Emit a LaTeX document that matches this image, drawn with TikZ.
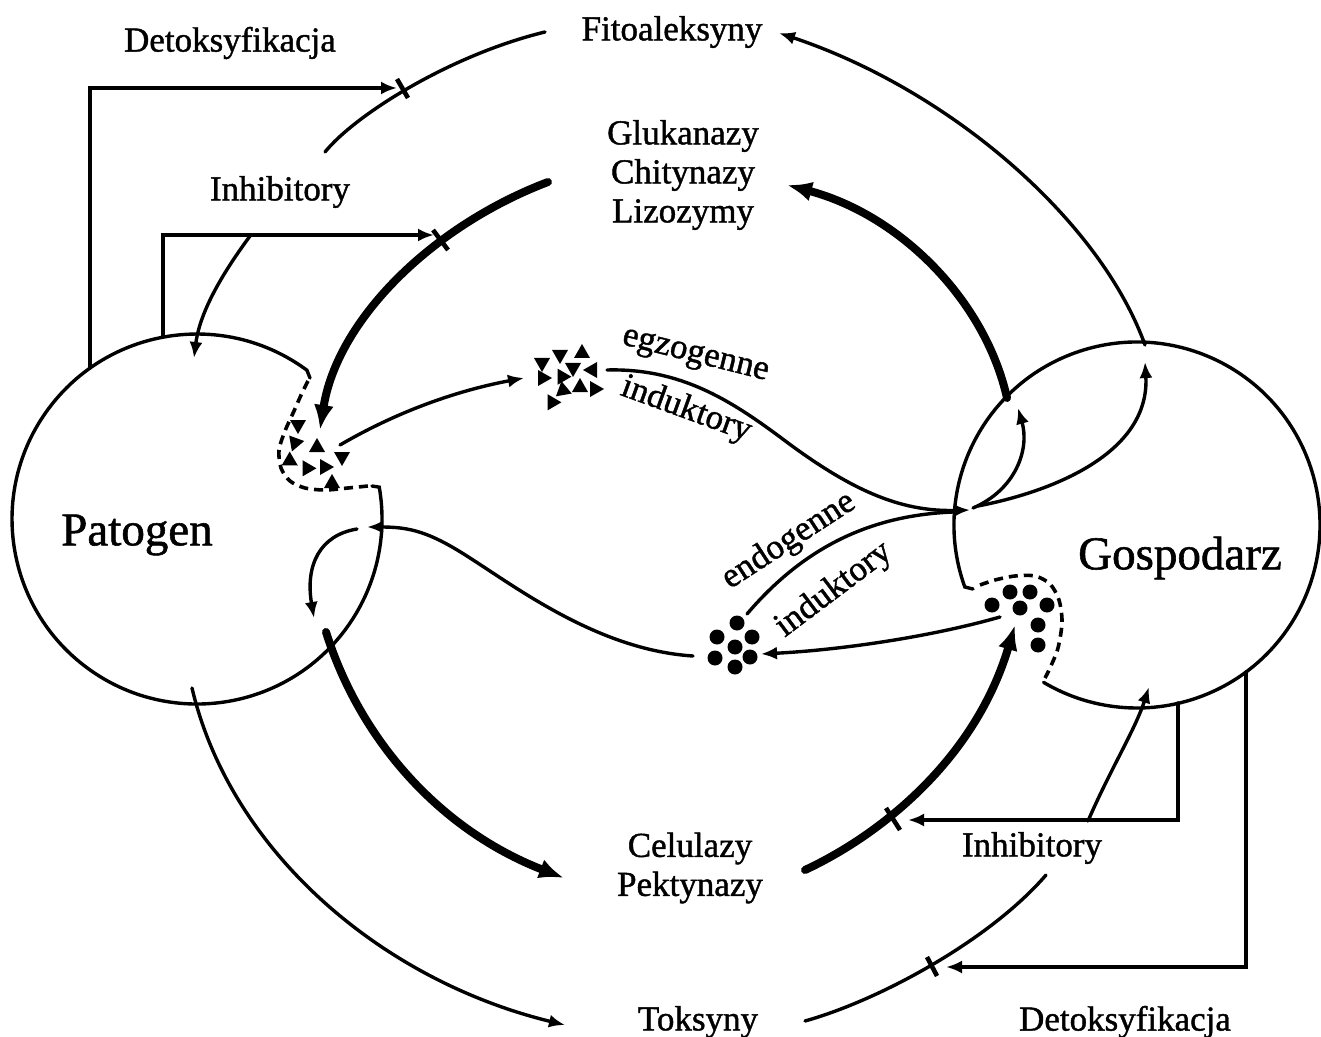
\documentclass[tikz,border=0pt]{standalone}
\usepackage{fontspec}
\setmainfont{Liberation Serif}
\newfontfamily\labfont[FakeBold=1.2]{Liberation Serif}
\usetikzlibrary{arrows.meta}
\newcommand\tria[3]{\fill[shift={(#1,#2)},rotate=#3] (0,-9)--(8,5)--(-8,5)--cycle;}
\begin{document}
\begin{tikzpicture}[x=0.5pt,y=-0.5pt,
  ln/.style={line width=1.7pt, line cap=round},
  thk/.style={line width=4pt, line cap=round},
  arr/.style={ln, -{Latex[length=8pt,width=6.5pt]}},
  tarr/.style={thk, -{Latex[length=12.5pt,width=10pt]}},
  dsh/.style={line width=1.8pt, dash pattern=on 4.5pt off 3pt},
  tick/.style={line width=2.3pt},
  lbl/.style={font=\labfont\fontsize{17.5}{19.5}\selectfont, inner sep=0pt, align=center},
  big/.style={font=\labfont\fontsize{23.5}{26}\selectfont, inner sep=0pt}]
\useasboundingbox (0,0) rectangle (1321,1037);

% ---------- circles ----------
\coordinate (Pc) at (197,519);
\coordinate (Gc) at (1137,525);
\draw[ln] (310,378) -- (306.9,370.2) arc[start angle=-53.56, end angle=-369.92, radius=185] -- (372,486);
\draw[dsh] plot[smooth] coordinates {(308,381) (302,393) (294,411) (285,431) (279,450) (281,468) (290,481) (305,488) (325,490) (348,488) (368,486)};
\draw[ln] (973,589) -- (964.8,587) arc[start angle=160.2, end angle=480.7, radius=183];
\draw[dsh] plot[smooth] coordinates {(980,585) (995,580) (1015,576) (1035,576) (1050,584) (1059,600) (1062,622) (1058,648) (1050,668) (1045,678)};

% ---------- labels ----------
\node[big] (P) at (137,535) {Patogen};
\node[big] (G) at (1180,558) {Gospodarz};
\node[lbl] (detox1) at (230,43) {Detoksyfikacja};
\node[lbl] (fito) at (672,32) {Fitoaleksyny};
\node[lbl] (glu) at (683,175) {Glukanazy\\Chitynazy\\Lizozymy};
\node[lbl] (inh1) at (280,192) {Inhibitory};
\node[lbl, rotate=-14] (egz) at (695,357) {egzogenne};
\node[lbl, rotate=-20] (ind1) at (686,410) {induktory};
\node[lbl, rotate=33] (endo) at (789,541) {endogenne};
\node[lbl, rotate=37] (ind2) at (834,590) {induktory};
\node[lbl] (cel) at (690,868) {Celulazy\\Pektynazy};
\node[lbl] (inh2) at (1032,848) {Inhibitory};
\node[lbl] (tok) at (698,1022) {Toksyny};
\node[lbl] (detox2) at (1125,1022) {Detoksyfikacja};

% ---------- clusters ----------
% triangles in pathogen
\tria{298}{425}{180}\tria{295}{443}{160}\tria{317}{447}{0}\tria{342}{457}{180}
\tria{290}{461}{-120}\tria{307}{468}{30}\tria{325}{467}{-90}\tria{332}{483}{0}
% exogenous inducers
\tria{542}{363}{180}\tria{560}{355}{180}\tria{582}{353}{0}\tria{543}{378}{-90}
\tria{562}{377}{150}\tria{573}{368}{180}\tria{592}{370}{90}\tria{563}{390}{10}
\tria{580}{387}{0}\tria{595}{389}{-90}\tria{552}{402}{30}
% endogenous inducers
\foreach \p in {(737,623),(717,637),(752,637),(735,647),(715,658),(750,657),(735,667)}
  \fill \p circle[radius=7.5];
% host dots
\foreach \p in {(1010,592),(1030,592),(992,605),(1020,608),(1047,605),(1038,625),(1038,645)}
  \fill \p circle[radius=7.5];

% ---------- coordinates ----------
\coordinate (d1a) at (90,368);
\coordinate (d1b) at (397,88);
\coordinate (i1a) at (163,337);
\coordinate (i1b) at (434,235);
\coordinate (i2a) at (1178,703);
\coordinate (i2b) at (908,820);
\coordinate (d2a) at (1246,672);
\coordinate (d2b) at (946,967);

% ---------- top-left ----------
\draw[arr] (d1a) -- (90,88) -- (d1b);
\draw[ln] (325,152) .. controls (355,115) and (450,55) .. (545,32);
\draw[tick] (397,79) -- (408,98);
\draw[arr] (1145,345) .. controls (1100,220) and (950,90) .. (779,33);

\draw[tarr] (548,182) .. controls (432,226) and (337,320) .. (320,430);
\draw[tick] (433,230) -- (448,250);
\draw[arr] (i1a) -- (163,235) -- (i1b);
\draw[arr] (250,236) .. controls (225,270) and (200,310) .. (194,358);

\draw[tarr] (1007,398) .. controls (985,300) and (900,215) .. (787,185);

% ---------- inducers ----------
\draw[arr] (340,445) .. controls (400,410) and (460,390) .. (524,378);
\draw[arr] (607,370) .. controls (680,368) and (730,400) .. (780,437) .. controls (850,490) and (900,512) .. (970,510);
\draw[arr] (973,508) .. controls (1015,490) and (1030,450) .. (1018,408);
\draw[arr] (978,506) .. controls (1060,490) and (1150,450) .. (1145,362);
\draw[ln] (953,512) .. controls (880,515) and (810,540) .. (747,614);
\draw[arr] (1000,617) .. controls (930,637) and (840,650) .. (761,654);
\draw[arr] (693,656) .. controls (600,650) and (520,590) .. (470,558) .. controls (430,532) and (410,527) .. (367,527);
\draw[arr] (357,529) .. controls (320,535) and (305,565) .. (314,618);

% ---------- bottom ----------
\draw[tarr] (326,632) .. controls (360,740) and (440,830) .. (564,878);
\draw[arr] (192,688) .. controls (230,850) and (380,980) .. (565,1025);
\draw[tarr] (805,870) .. controls (880,835) and (975,760) .. (1015,625);
\draw[tick] (886,808) -- (900,830);
\draw[arr] (i2a) -- (1178,820) -- (i2b);
\draw[arr] (1088,821) .. controls (1110,770) and (1135,730) .. (1149,687);
\draw[arr] (d2a) -- (1246,967) -- (d2b);
\draw[ln] (805,1021) .. controls (880,1000) and (990,940) .. (1046,875);
\draw[tick] (927,957) -- (937,976);
\end{tikzpicture}
\end{document}
